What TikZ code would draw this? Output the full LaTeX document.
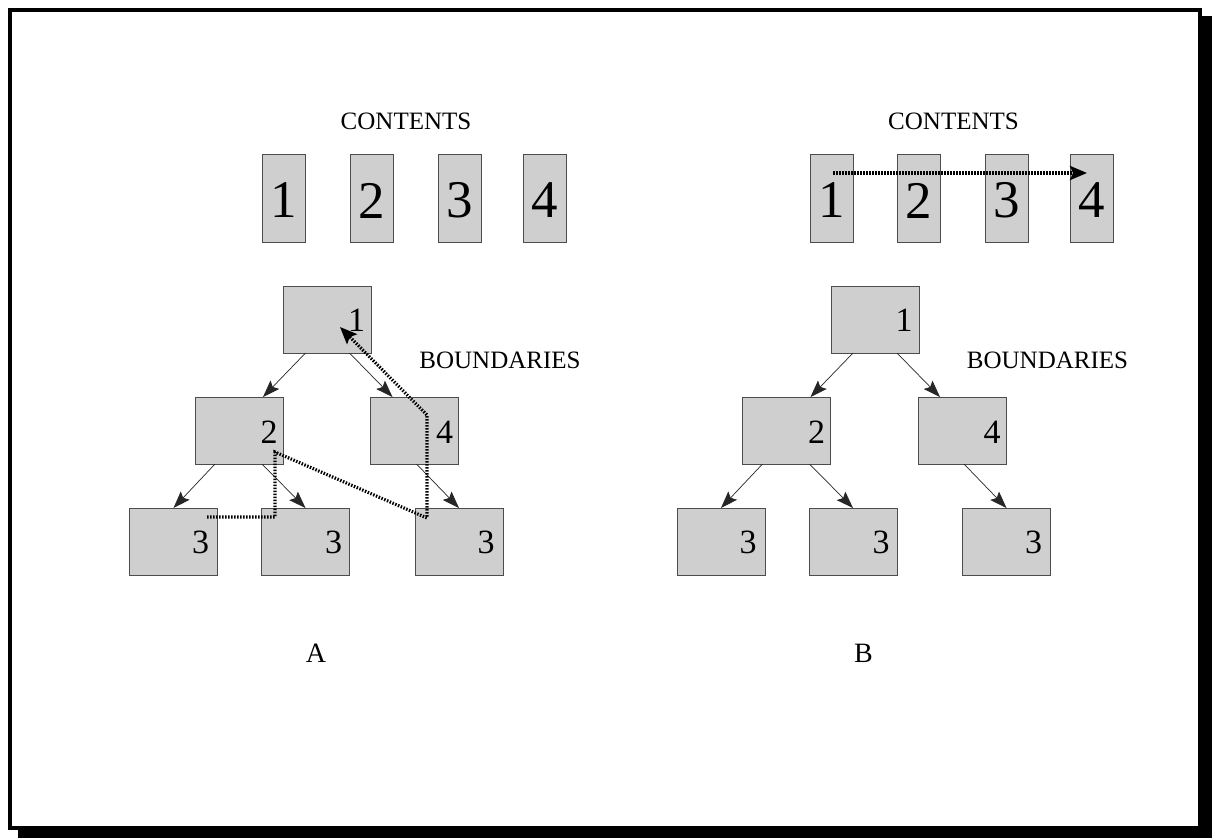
\documentclass[tikz,border=0pt]{standalone}
\usepackage{fontspec}
\setmainfont{Liberation Serif}
\usetikzlibrary{arrows.meta}

\tikzset{
  card/.style={draw=black!70, line width=0.8pt, fill=black!19, inner sep=0pt, outer sep=0pt,
               minimum width=43pt, minimum height=88pt},
  treebox/.style={draw=black!70, line width=0.8pt, fill=black!19, inner sep=0pt, outer sep=0pt,
                  minimum width=88pt, minimum height=67pt},
  bigdigit/.style={inner sep=0pt, font=\fontsize{53}{53}\selectfont},
  digit/.style={inner sep=0pt, font=\fontsize{34}{34}\selectfont},
  caption/.style={inner sep=0pt, font=\fontsize{25}{28}\selectfont},
  panelname/.style={inner sep=0pt, font=\fontsize{28}{30}\selectfont},
  edge/.style={draw=black!85, line width=0.7pt, -{Stealth[length=17pt,width=12pt,inset=3pt]}},
  trav/.style={line width=3.2pt, dash pattern=on 1.5pt off 1.5pt,
               -{Stealth[length=17pt,width=14pt,inset=3pt]}},
}

% one panel: contents cards, tree of boundaries, captions
% #1 = name prefix, #2 = horizontal offset, #3 = panel letter
\newcommand\fragpanel[3]{%
  \node[caption] (#1contents) at ({#2+406},121) {CONTENTS};
  \node[card] (#1c1) at ({#2+284},198.5) {};
  \node[card] (#1c2) at ({#2+371.5},198.5) {};
  \node[card] (#1c3) at ({#2+459.5},198.5) {};
  \node[card] (#1c4) at ({#2+544.5},198.5) {};
  \node[bigdigit] (#1n1) at ([yshift=-2pt]#1c1.center) {1};
  \node[bigdigit] (#1n2) at ([yshift=-2pt]#1c2.center) {2};
  \node[bigdigit] (#1n3) at ([yshift=-2pt]#1c3.center) {3};
  \node[bigdigit] (#1n4) at ([yshift=-2pt]#1c4.center) {4};
  %
  \node[treebox] (#1t1) at ({#2+327.5},319.5) {};
  \node[treebox] (#1t2) at ({#2+239},430.5) {};
  \node[treebox] (#1t4) at ({#2+414.5},430.5) {};
  \node[treebox] (#1t3a) at ({#2+173.5},541.5) {};
  \node[treebox] (#1t3b) at ({#2+305.5},541.5) {};
  \node[treebox] (#1t3c) at ({#2+459},541.5) {};
  \node[digit] (#1d1) at ([xshift=29pt,yshift=-1pt]#1t1.center) {1};
  \node[digit] (#1d2) at ([xshift=30pt,yshift=-2pt]#1t2.center) {2};
  \node[digit] (#1d4) at ([xshift=30pt,yshift=-2pt]#1t4.center) {4};
  \node[digit] (#1d3a) at ([xshift=27pt,yshift=-1pt]#1t3a.center) {3};
  \node[digit] (#1d3b) at ([xshift=28pt,yshift=-1pt]#1t3b.center) {3};
  \node[digit] (#1d3c) at ([xshift=27pt,yshift=-1pt]#1t3c.center) {3};
  \draw[edge] ([xshift=-22pt]#1t1.south) -- ([xshift=24pt]#1t2.north);
  \draw[edge] ([xshift=22pt]#1t1.south) -- ([xshift=-22pt]#1t4.north);
  \draw[edge] ([xshift=-24pt]#1t2.south) -- (#1t3a.north);
  \draw[edge] ([xshift=23pt]#1t2.south) -- (#1t3b.north);
  \draw[edge] ([xshift=2pt]#1t4.south) -- (#1t3c.north);
  \node[caption] (#1bound) at ({#2+500},360) {BOUNDARIES};
  \node[panelname] (#1name) at ({#2+316},653) {#3};
}

\begin{document}
\begin{tikzpicture}[x=1pt,y=-1pt]
  \useasboundingbox (0,0) rectangle (1212,838);
  % framed sheet with drop shadow
  \fill[black] (18,16) rectangle (1212,838);
  \draw[line width=3.5pt, fill=white] (10,10) rectangle (1200,828);

  \fragpanel{A}{0}{A}
  \fragpanel{B}{547.5}{B}

  % A: walk through the boundary tree
  \coordinate (w1) at (207,517);
  \coordinate (w2) at (275,517);
  \coordinate (w3) at (275,452);
  \coordinate (w4) at (427,518);
  \coordinate (w5) at (427,415);
  \coordinate (w6) at (340,327);
  \draw[trav] (w1) -- (w2) -- (w3) -- (w4) -- (w5) -- (w6);

  % B: jump straight along the contents
  \coordinate (s1) at (833,173);
  \coordinate (s4) at (1087,173);
  \draw[trav] (s1) -- (s4);
\end{tikzpicture}
\end{document}
